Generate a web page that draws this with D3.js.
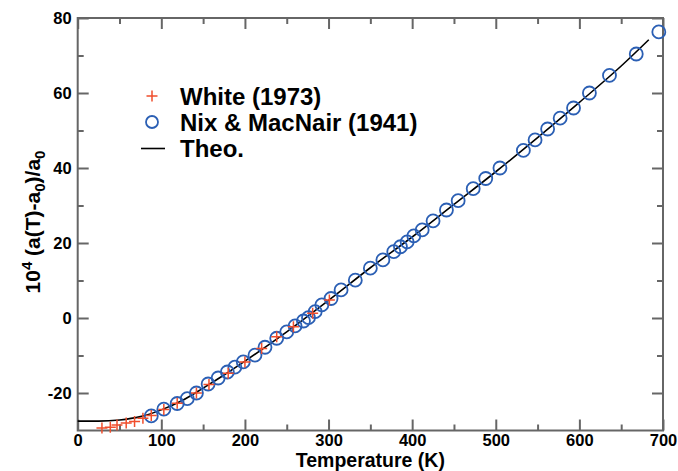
<!DOCTYPE html>
<html>
<head>
<meta charset="utf-8">
<script src="https://cdn.jsdelivr.net/npm/d3@7"></script>
<style>
body { margin: 0; background: #fff; }
text { font-family: "Liberation Sans", Arial, Helvetica, sans-serif; font-weight: bold; }
</style>
</head>
<body>
<script>
var width = 678;
var height = 471;
var margin = {top: 18, right: 15, bottom: 40.5, left: 77.7};

// White (1973)
var whiteT = [29, 39, 47, 58, 68, 78, 88, 103, 119, 142, 157, 180, 200, 220, 238, 258, 281, 301];
var whiteV = [-29.3, -29.1, -28.5, -28.0, -27.6, -26.7, -26.0, -24.4, -22.7, -20.0, -17.7, -14.7, -11.7, -8.1, -5.0, -2.3, 1.3, 4.8];

// Nix & MacNair (1941)
var nixT = [88, 103, 119, 131, 142, 156, 168, 179, 188, 198, 212, 224, 238, 250, 260, 270, 276, 284, 292, 303,
            315, 332, 350, 365, 378, 386, 394, 402, 412, 425, 441, 455, 473, 488, 505, 533, 547, 562, 577, 593,
            612, 636, 668, 695];
var nixV = [-26.1, -24.3, -22.8, -21.5, -20.0, -17.6, -16.0, -14.4, -13.1, -11.7, -9.9, -7.8, -5.4, -3.7, -2.1, -0.8, 0.1, 1.7, 3.5, 5.2,
            7.5, 10.1, 13.3, 15.5, 17.7, 19.0, 20.3, 21.9, 23.5, 25.9, 28.8, 31.3, 34.5, 37.2, 40.0, 44.7, 47.5, 50.4, 53.3, 56.0,
            60.0, 64.7, 70.4, 76.3];

// Theo.
var theoT = [0, 25, 50, 75, 100, 125, 150, 175, 200, 250, 300, 350, 400, 450, 500, 550, 600, 650, 683];
var theoV = [-27.5, -27.5, -27.2, -26.3, -24.5, -22.0, -18.7, -15.2, -11.5, -3.7, 4.7, 13.4, 21.6, 30.3, 39.0, 48.1, 57.5, 67.2, 74.2];

var xMajor = [0, 100, 200, 300, 400, 500, 600, 700];
var xMinor = [50, 150, 250, 350, 450, 550, 650];
var yMajor = [-20, 0, 20, 40, 60, 80];
var yMinor = [-10, 10, 30, 50, 70];

var legendNames = ["White (1973)", "Nix & MacNair (1941)", "Theo."];

var red = "#f04e2c";
var blue = "#2b5fb4";
var axisColor = "#666";

var x = d3.scaleLinear().domain([0, 700]).range([margin.left, width - margin.right]);
var y = d3.scaleLinear().domain([-30, 80]).range([height - margin.bottom, margin.top]);

var svg = d3.select("body").append("svg")
  .attr("width", width)
  .attr("height", height);

function styleAxis(g) {
  g.selectAll("path").remove();
  g.selectAll("line").attr("stroke", axisColor).attr("stroke-width", 2);
  g.selectAll("text").attr("fill", "#000").style("font-size", "16.5px");
}
function fmt(d) { return String(d); }

// minor ticks
svg.append("g").attr("transform", "translate(0," + y(-30) + ")")
  .call(d3.axisBottom(x).tickValues(xMinor).tickSize(-6).tickFormat("")).call(styleAxis);
svg.append("g").attr("transform", "translate(0," + y(80) + ")")
  .call(d3.axisTop(x).tickValues(xMinor).tickSize(-6).tickFormat("")).call(styleAxis);
svg.append("g").attr("transform", "translate(" + x(0) + ",0)")
  .call(d3.axisLeft(y).tickValues(yMinor).tickSize(-6).tickFormat("")).call(styleAxis);
svg.append("g").attr("transform", "translate(" + x(700) + ",0)")
  .call(d3.axisRight(y).tickValues(yMinor).tickSize(-6).tickFormat("")).call(styleAxis);

// major ticks
svg.append("g").attr("transform", "translate(0," + y(-30) + ")")
  .call(d3.axisBottom(x).tickValues(xMajor).tickSize(-11).tickPadding(4).tickFormat(fmt)).call(styleAxis);
svg.append("g").attr("transform", "translate(0," + y(80) + ")")
  .call(d3.axisTop(x).tickValues(xMajor).tickSize(-11).tickFormat("")).call(styleAxis);
svg.append("g").attr("transform", "translate(" + x(0) + ",0)")
  .call(d3.axisLeft(y).tickValues(yMajor).tickSize(-11).tickPadding(6).tickFormat(fmt)).call(styleAxis);
svg.append("g").attr("transform", "translate(" + x(700) + ",0)")
  .call(d3.axisRight(y).tickValues(yMajor).tickSize(-11).tickFormat("")).call(styleAxis);

// frame
svg.append("rect")
  .attr("x", x(0)).attr("y", y(80))
  .attr("width", x(700) - x(0)).attr("height", y(-30) - y(80))
  .attr("fill", "none").attr("stroke", axisColor).attr("stroke-width", 2);

// theo line
var line = d3.line()
  .x(function(d) { return x(d[0]); })
  .y(function(d) { return y(d[1]); })
  .curve(d3.curveMonotoneX);
svg.append("path")
  .datum(d3.zip(theoT, theoV))
  .attr("d", line)
  .attr("fill", "none")
  .attr("stroke", "#000")
  .attr("stroke-width", 1.6);

// Nix & MacNair circles
svg.selectAll(".nix")
  .data(d3.zip(nixT, nixV))
  .enter().append("circle")
  .attr("class", "nix")
  .attr("cx", function(d) { return x(d[0]); })
  .attr("cy", function(d) { return y(d[1]); })
  .attr("r", 6.5)
  .attr("fill", "none")
  .attr("stroke", blue)
  .attr("stroke-width", 1.8);

// White pluses
function plusPath(s) {
  return "M" + (-s) + ",0H" + s + "M0," + (-s) + "V" + s;
}
svg.selectAll(".white")
  .data(d3.zip(whiteT, whiteV))
  .enter().append("path")
  .attr("class", "white")
  .attr("transform", function(d) { return "translate(" + x(d[0]) + "," + y(d[1]) + ")"; })
  .attr("d", plusPath(5.5))
  .attr("fill", "none")
  .attr("stroke", red)
  .attr("stroke-width", 1.5);

// legend
var legend = svg.append("g");
legend.append("path")
  .attr("transform", "translate(152,96)")
  .attr("d", plusPath(5.5))
  .attr("stroke", red).attr("stroke-width", 1.5);
legend.append("circle")
  .attr("cx", 152).attr("cy", 122).attr("r", 6)
  .attr("fill", "none").attr("stroke", blue).attr("stroke-width", 1.8);
legend.append("line")
  .attr("x1", 141).attr("x2", 165).attr("y1", 148.5).attr("y2", 148.5)
  .attr("stroke", "#000").attr("stroke-width", 1.6);
legend.selectAll(".lt")
  .data(legendNames)
  .enter().append("text")
  .attr("class", "lt")
  .attr("x", 180)
  .attr("y", function(d, i) { return 105 + i * 26; })
  .style("font-size", "24px")
  .text(function(d) { return d; });

// axis labels
svg.append("text")
  .attr("x", (x(0) + x(700)) / 2)
  .attr("y", 467)
  .attr("text-anchor", "middle")
  .style("font-size", "19.5px")
  .text("Temperature (K)");

var yl = svg.append("text")
  .attr("transform", "translate(40,222) rotate(-90)")
  .attr("text-anchor", "middle")
  .style("font-size", "21px");
yl.append("tspan").text("10");
yl.append("tspan").attr("dy", -8).style("font-size", "15px").text("4");
yl.append("tspan").attr("dy", 8).text(" (a(T)-a");
yl.append("tspan").attr("dy", 5).style("font-size", "15px").text("0");
yl.append("tspan").attr("dy", -5).text(")/a");
yl.append("tspan").attr("dy", 5).style("font-size", "15px").text("0");
</script>
</body>
</html>
